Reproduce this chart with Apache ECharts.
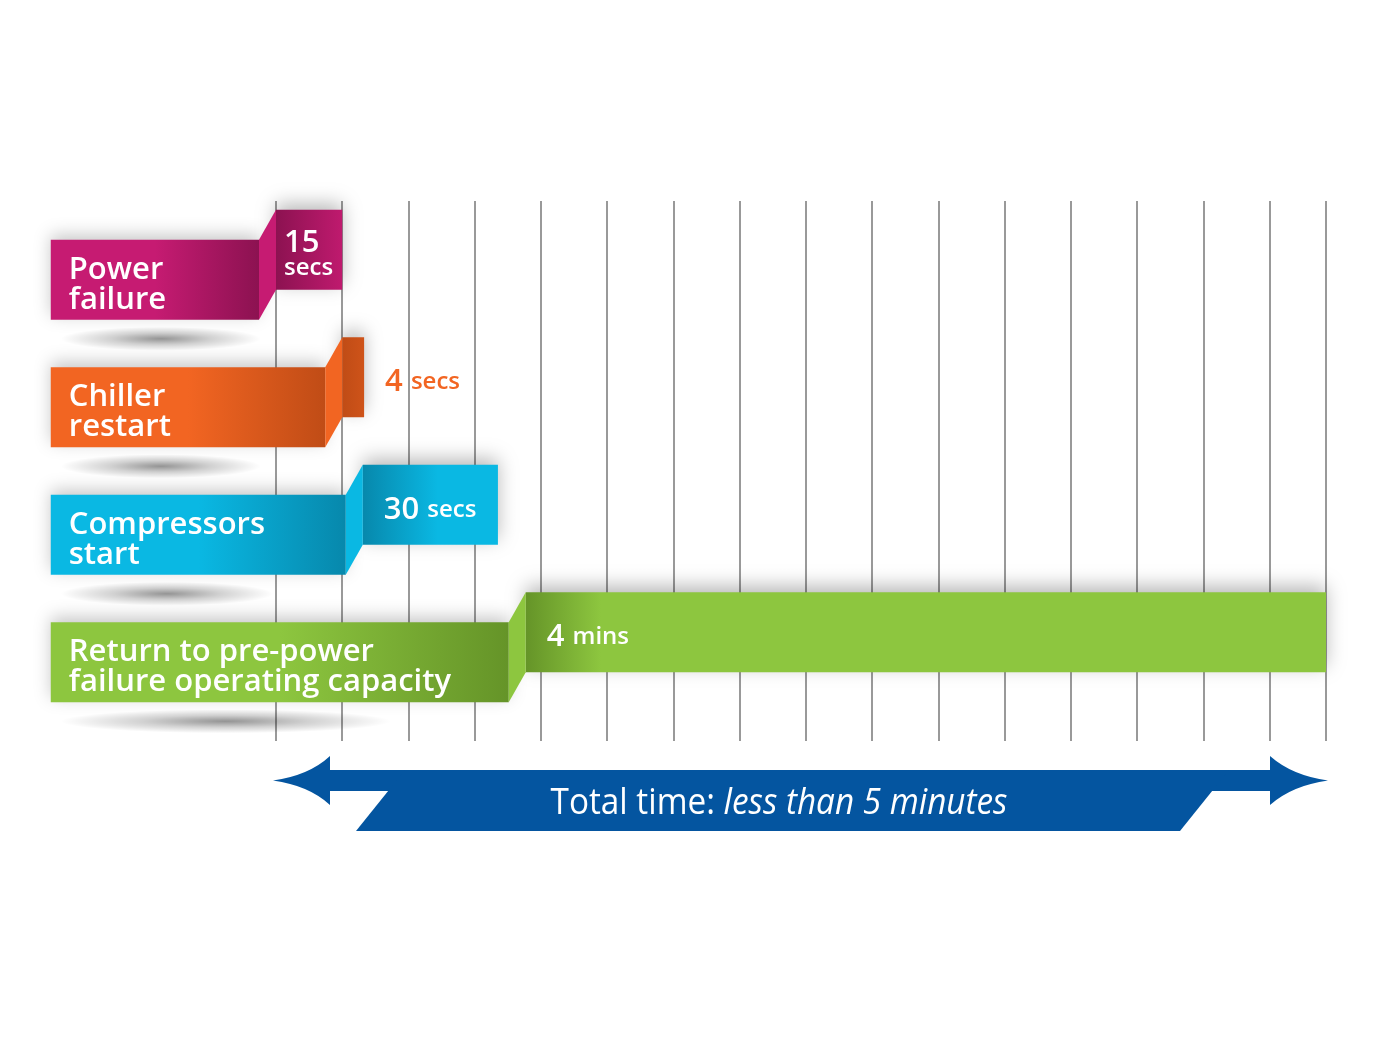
<!DOCTYPE html>
<html>
<head>
<meta charset="utf-8">
<title>Chiller restart timeline</title>
<script src="https://cdn.jsdelivr.net/npm/echarts@6/dist/echarts.min.js"></script>
<style>
  html, body { margin: 0; padding: 0; background: #fff; }
  #chart { width: 1380px; height: 1037px; }
</style>
</head>
<body>
<div id="chart"></div>
<script>
// steps (rows, top to bottom)
const steps = ['Power\nfailure', 'Chiller\nrestart', 'Compressors\nstart', 'Return to pre-power\nfailure operating capacity'];
// duration text
const durationValue = ['15', '4', '30', '4'];
const durationUnit = ['secs', 'secs', 'secs', 'mins'];
// start / end of each box, in grid columns
const segStart = [0, 1, 1.31, 3.77];
const segEnd = [1, 1.33, 3.35, 15.85];
// time axis: one grid line per column
const axisMax = 15.85;
const labelFrom = -3.4;
const totalSpan = [0, 15.85];
const totalText = ['Total time: ', 'less than 5 minutes'];

const colors = [
  { base: '#c61b72', dark: '#8c1251' },
  { base: '#f26522', dark: '#c04c16' },
  { base: '#0ab8e3', dark: '#0788ac' },
  { base: '#8dc63f', dark: '#659428' }
];
const FONT = '"Open Sans", "Noto Sans", sans-serif';

let chart = echarts.init(document.getElementById('chart'));

function renderStep(params, api) {
  let i = api.value(2);
  let c = colors[i];
  let p0 = api.coord([api.value(0), i + 0.5]);
  let p1 = api.coord([api.value(1), i + 0.5]);
  let labelLeft = api.coord([labelFrom, i + 0.5])[0];
  let cy = p0[1];
  let bx0 = p0[0], bx1 = p1[0];
  let boxTop = cy - 55, boxBot = cy + 25;
  let labTop = cy - 25, labBot = cy + 55;
  let lx1 = bx0 - 17;
  let labW = lx1 - labelLeft;
  let shW = Math.max(200, labW * 0.72);

  let children = [];
  // soft shadow under the ribbon
  children.push({
    type: 'circle',
    shape: { cx: 0, cy: 0, r: 10 },
    x: labelLeft + 10 + shW / 2,
    y: labBot + 19,
    scaleX: shW / 20,
    scaleY: 1.2,
    style: {
      fill: new echarts.graphic.RadialGradient(0.5, 0.5, 0.5, [
        { offset: 0, color: 'rgba(0,0,0,0.42)' },
        { offset: 0.5, color: 'rgba(0,0,0,0.18)' },
        { offset: 1, color: 'rgba(0,0,0,0)' }
      ])
    }
  });
  // label part
  children.push({
    type: 'rect',
    shape: { x: labelLeft, y: labTop, width: labW, height: 80 },
    style: {
      fill: new echarts.graphic.LinearGradient(0, 0, 1, 0, [
        { offset: 0, color: c.base },
        { offset: 0.5, color: c.base },
        { offset: 1, color: c.dark }
      ]),
      shadowBlur: 16, shadowOffsetY: -5, shadowColor: 'rgba(0,0,0,0.22)'
    }
  });
  // value box
  let grad = new echarts.graphic.LinearGradient(bx0, 0, bx0 + 75, 0, [
    { offset: 0, color: c.dark },
    { offset: 1, color: c.base }
  ], true);
  children.push({
    type: 'rect',
    shape: { x: bx0, y: boxTop, width: bx1 - bx0, height: 80 },
    style: { fill: grad, shadowBlur: 18, shadowOffsetY: -6, shadowColor: 'rgba(0,0,0,0.28)' }
  });
  // fold between label and box
  children.push({
    type: 'polygon',
    shape: { points: [[lx1, labTop], [bx0, boxTop], [bx0, boxBot], [lx1, labBot]] },
    style: { fill: c.base }
  });
  // step name
  children.push({
    type: 'text',
    style: {
      text: steps[i], x: labelLeft + 18, y: labTop + 45,
      verticalAlign: 'middle', fill: '#fff',
      fontFamily: FONT, fontWeight: 600, fontSize: 31, lineHeight: 30
    }
  });
  // duration
  let w = bx1 - bx0;
  let col = w < 40 ? c.base : '#fff';
  let rich = {
    n: { fontFamily: FONT, fontWeight: 600, fontSize: 31, lineHeight: 26, fill: col },
    u: { fontFamily: FONT, fontWeight: 600, fontSize: 24, lineHeight: 23, fill: col }
  };
  let txt, tx;
  if (w < 40) {
    txt = '{n|' + durationValue[i] + ' }{u|' + durationUnit[i] + '}';
    tx = bx1 + 21;
  } else if (w < 100) {
    txt = '{n|' + durationValue[i] + '}\n{u|' + durationUnit[i] + '}';
    tx = bx0 + 8;
  } else {
    txt = '{n|' + durationValue[i] + ' }{u|' + durationUnit[i] + '}';
    tx = bx0 + 21;
  }
  children.push({
    type: 'text',
    style: { text: txt, x: tx, y: cy - 10, verticalAlign: 'middle', rich: rich }
  });
  return { type: 'group', children: children };
}

function renderTotal(params, api) {
  let cs = params.coordSys;
  let x0 = api.coord([api.value(0), 0])[0];
  let x1 = api.coord([api.value(1), 0])[0];
  let base = cs.y + cs.height;
  let mid = base + 39.5;
  let blue = '#0455a0';
  let lt = x0 - 3, lb = x0 + 54;
  let rt = x1 + 2, rb = x1 - 56;
  return {
    type: 'group',
    children: [
      { type: 'rect', shape: { x: lb - 4, y: base + 29, width: rb - lb + 8, height: 21 }, style: { fill: blue } },
      {
        type: 'polygon',
        shape: { points: [[x0 + 129, base + 29], [x1 - 97, base + 29], [x1 - 146, base + 90], [x0 + 80, base + 90]] },
        style: { fill: blue }
      },
      {
        type: 'path',
        shape: { pathData: 'M' + lt + ' ' + mid + ' Q' + (lt + 36) + ' ' + (mid - 5) + ' ' + lb + ' ' + (mid - 24.5) +
          ' L' + lb + ' ' + (mid + 24.5) + ' Q' + (lt + 36) + ' ' + (mid + 5) + ' ' + lt + ' ' + mid + ' Z' },
        style: { fill: blue }
      },
      {
        type: 'path',
        shape: { pathData: 'M' + rt + ' ' + mid + ' Q' + (rt - 36) + ' ' + (mid - 5) + ' ' + rb + ' ' + (mid - 24.5) +
          ' L' + rb + ' ' + (mid + 24.5) + ' Q' + (rt - 36) + ' ' + (mid + 5) + ' ' + rt + ' ' + mid + ' Z' },
        style: { fill: blue }
      },
      {
        // narrow the text to look like a condensed face
        type: 'text',
        x: (x0 + x1) / 2 - 22,
        y: base + 62,
        scaleX: 0.9,
        style: {
          text: '{r|' + totalText[0] + '}{i|' + totalText[1] + '}',
          x: 0, y: 0, align: 'center', verticalAlign: 'middle',
          rich: {
            r: { fontFamily: FONT, fontSize: 37, fontWeight: 500, fill: '#fff' },
            i: { fontFamily: FONT, fontSize: 37, fontWeight: 500, fontStyle: 'italic', fill: '#fff' }
          }
        }
      }
    ]
  };
}

let stepData = steps.map((s, i) => [segStart[i], segEnd[i], i]);

let option = {
  animation: false,
  backgroundColor: '#fff',
  grid: { left: 276, right: 54, top: 201, bottom: 296 },
  xAxis: {
    type: 'value',
    min: 0,
    max: axisMax,
    interval: 1,
    axisLine: { show: false },
    axisTick: { show: false },
    axisLabel: { show: false },
    splitLine: { show: true, lineStyle: { color: '#999', width: 2, type: 'solid' } }
  },
  yAxis: {
    type: 'value',
    inverse: true,
    min: 0,
    max: 4.235,
    show: false,
    splitLine: { show: false }
  },
  series: [{
    name: 'steps',
    type: 'custom',
    renderItem: renderStep,
    encode: { x: [0, 1], y: 2 },
    clip: false,
    data: stepData
  }, {
    name: 'total',
    type: 'custom',
    renderItem: renderTotal,
    encode: { x: [0, 1] },
    clip: false,
    data: [[totalSpan[0], totalSpan[1], 0]]
  }]
};
chart.setOption(option);
window.onresize = () => {
  chart.resize()
}
</script>
</body>
</html>
